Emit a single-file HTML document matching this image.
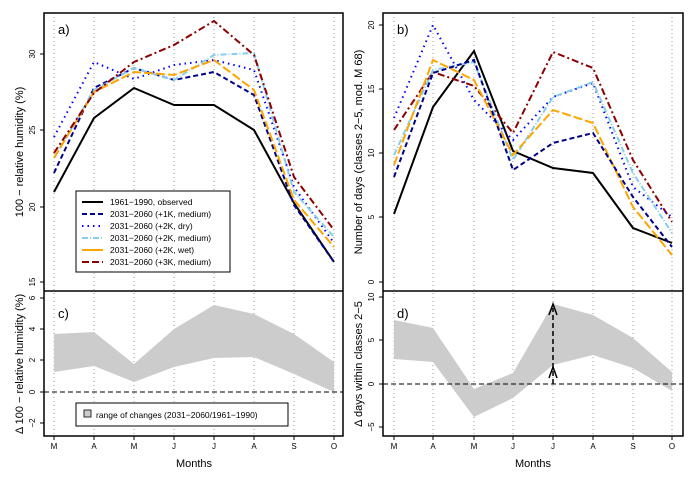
<!DOCTYPE html>
<html><head><meta charset="utf-8"><style>
html,body{margin:0;padding:0;background:#fff;}
svg{display:block;font-family:"Liberation Sans",sans-serif;}
</style></head><body>
<svg width="700" height="481" viewBox="0 0 700 481" xmlns="http://www.w3.org/2000/svg">
<rect width="700" height="481" fill="#fff"/>
<!-- grid lines -->
<g stroke="#999" stroke-width="1" stroke-dasharray="1,3">
<line x1="54" y1="13" x2="54" y2="436"/><line x1="94" y1="13" x2="94" y2="436"/><line x1="134" y1="13" x2="134" y2="436"/><line x1="174" y1="13" x2="174" y2="436"/><line x1="214" y1="13" x2="214" y2="436"/><line x1="254" y1="13" x2="254" y2="436"/><line x1="294" y1="13" x2="294" y2="436"/><line x1="334" y1="13" x2="334" y2="436"/>
<line x1="394" y1="13" x2="394" y2="436"/><line x1="433" y1="13" x2="433" y2="436"/><line x1="474" y1="13" x2="474" y2="436"/><line x1="513" y1="13" x2="513" y2="436"/><line x1="553" y1="13" x2="553" y2="436"/><line x1="593" y1="13" x2="593" y2="436"/><line x1="633" y1="13" x2="633" y2="436"/><line x1="672" y1="13" x2="672" y2="436"/>
</g>
<!-- panel a series -->
<g fill="none" stroke-width="2">
<polyline stroke="#000" points="54,192 94,118 134,88 174,105 214,105 254,130 294,203 334,262"/>
<polyline stroke="#00008b" stroke-dasharray="5,3" points="54,173 94,88 134,68 174,80 214,72 254,95 294,205 334,262"/>
<polyline stroke="#0000ff" stroke-dasharray="1.5,4" points="54,137 94,62 134,79 174,65 214,60 254,70 294,187 334,243"/>
<polyline stroke="#87ceeb" stroke-dasharray="6,2,1,2" points="54,158 94,90 134,68 174,80 214,55 254,53 294,192 334,237"/>
<polyline stroke="#ffa500" stroke-dasharray="9,3" points="54,158 94,92 134,72 174,75 214,60 254,90 294,200 334,247"/>
<polyline stroke="#8b0000" stroke-dasharray="7,3,2,3" points="54,153 94,93 134,62 174,45 214,21 254,55 294,177 334,230"/>
</g>
<!-- panel b series -->
<g fill="none" stroke-width="2">
<polyline stroke="#000" points="394,214 433,107 474,51 513,151 553,168 593,173 633,228 672,243"/>
<polyline stroke="#8b0000" stroke-dasharray="7,3,2,3" points="394,130 433,72 474,86 513,133 553,52 593,68 633,160 672,222"/>
<polyline stroke="#0000ff" stroke-dasharray="1.5,4" points="394,118 433,25 474,100 513,140 553,97 593,83 633,187 672,217"/>
<polyline stroke="#87ceeb" stroke-dasharray="6,2,1,2" points="394,155 433,70 474,62 513,160 553,97 593,82 633,173 672,233"/>
<polyline stroke="#ffa500" stroke-dasharray="9,3" points="394,165 433,60 474,80 513,155 553,110 593,123 633,207 672,255"/>
<polyline stroke="#00008b" stroke-dasharray="5,3" points="394,177 433,73 474,60 513,170 553,143 593,133 633,197 672,247"/>
</g>
<!-- bands -->
<polygon fill="#cccccc" points="54,334 94,332 134,364 174,329 214,305 254,314 294,334 334,362 334,392 294,374 254,357 214,358 174,367 134,382 94,366 54,372"/>
<polygon fill="#cccccc" points="394,320 433,328 474,389 513,373 553,304 593,315 633,338 672,372 672,391 633,368 593,355 553,365 513,398 474,417 433,362 394,359"/>
<g stroke="#000" stroke-width="1" stroke-dasharray="5,3">
<line x1="44" y1="392" x2="343" y2="392"/>
<line x1="383" y1="384" x2="683" y2="384"/>
</g>
<!-- arrow d -->
<line x1="553" y1="384" x2="553" y2="308" stroke="#000" stroke-width="1.5" stroke-dasharray="5,3"/>
<polyline points="549,315 553,304 557,315" fill="none" stroke="#000" stroke-width="1.5"/>
<polyline points="549,378 553,367 557,378" fill="none" stroke="#000" stroke-width="1.5"/>
<!-- boxes -->
<g fill="none" stroke="#000" stroke-width="1.5">
<rect x="44" y="13" width="299" height="423"/>
<line x1="44" y1="291" x2="343" y2="291"/>
<rect x="383" y="13" width="300" height="423"/>
<line x1="383" y1="291" x2="683" y2="291"/>
</g>
<!-- legend a -->
<rect x="76" y="191" width="154" height="81" fill="#fff" stroke="#000" stroke-width="1"/>
<g stroke-width="2">
<line x1="82" y1="202" x2="103" y2="202" stroke="#000"/>
<line x1="82" y1="214" x2="103" y2="214" stroke="#00008b" stroke-dasharray="5,3"/>
<line x1="82" y1="226" x2="103" y2="226" stroke="#0000ff" stroke-dasharray="1.5,4"/>
<line x1="82" y1="238" x2="103" y2="238" stroke="#87ceeb" stroke-dasharray="6,2,1,2"/>
<line x1="82" y1="250" x2="103" y2="250" stroke="#ffa500"/>
<line x1="82" y1="262" x2="103" y2="262" stroke="#8b0000" stroke-dasharray="7,3"/>
</g>
<g font-size="8.5" fill="#000">
<text x="110" y="205">1961−1990, observed</text>
<text x="110" y="217">2031−2060 (+1K, medium)</text>
<text x="110" y="229">2031−2060 (+2K, dry)</text>
<text x="110" y="241">2031−2060 (+2K, medium)</text>
<text x="110" y="253">2031−2060 (+2K, wet)</text>
<text x="110" y="265">2031−2060 (+3K, medium)</text>
</g>
<!-- legend c -->
<rect x="76" y="403" width="212" height="23" fill="#fff" stroke="#000" stroke-width="1"/>
<rect x="84" y="410" width="7" height="7" fill="#ccc" stroke="#000" stroke-width="0.8"/>
<text x="96" y="418" font-size="8.5">range of changes (2031−2060/1961−1990)</text>
<!-- panel letters -->
<g font-size="13">
<text x="58" y="34">a)</text><text x="397" y="34">b)</text>
<text x="58" y="318">c)</text><text x="397" y="318">d)</text>
</g>
<!-- y ticks -->
<g stroke="#000" stroke-width="1">
<line x1="40" y1="54" x2="44" y2="54"/><line x1="40" y1="130" x2="44" y2="130"/><line x1="40" y1="207" x2="44" y2="207"/><line x1="40" y1="282" x2="44" y2="282"/>
<line x1="40" y1="298" x2="44" y2="298"/><line x1="40" y1="329" x2="44" y2="329"/><line x1="40" y1="360" x2="44" y2="360"/><line x1="40" y1="392" x2="44" y2="392"/><line x1="40" y1="423" x2="44" y2="423"/>
<line x1="379" y1="25" x2="383" y2="25"/><line x1="379" y1="89" x2="383" y2="89"/><line x1="379" y1="153" x2="383" y2="153"/><line x1="379" y1="217" x2="383" y2="217"/><line x1="379" y1="282" x2="383" y2="282"/>
<line x1="379" y1="297" x2="383" y2="297"/><line x1="379" y1="340" x2="383" y2="340"/><line x1="379" y1="384" x2="383" y2="384"/><line x1="379" y1="427" x2="383" y2="427"/>
</g>
<g font-size="8" text-anchor="middle">
<text transform="translate(35,54) rotate(-90)">30</text><text transform="translate(35,130) rotate(-90)">25</text><text transform="translate(35,207) rotate(-90)">20</text><text transform="translate(35,282) rotate(-90)">15</text>
<text transform="translate(35,298) rotate(-90)">6</text><text transform="translate(35,329) rotate(-90)">4</text><text transform="translate(35,360) rotate(-90)">2</text><text transform="translate(35,392) rotate(-90)">0</text><text transform="translate(35,423) rotate(-90)">−2</text>
<text transform="translate(374,25) rotate(-90)">20</text><text transform="translate(374,89) rotate(-90)">15</text><text transform="translate(374,153) rotate(-90)">10</text><text transform="translate(374,217) rotate(-90)">5</text><text transform="translate(374,282) rotate(-90)">0</text>
<text transform="translate(374,297) rotate(-90)">10</text><text transform="translate(374,340) rotate(-90)">5</text><text transform="translate(374,384) rotate(-90)">0</text><text transform="translate(374,427) rotate(-90)">−5</text>
</g>
<!-- y axis titles -->
<g font-size="11" text-anchor="middle">
<text transform="translate(23,152) rotate(-90)">100 − relative humidity (%)</text>
<text transform="translate(23,364) rotate(-90)">Δ 100 − relative humidity (%)</text>
<text transform="translate(362,152) rotate(-90)">Number of days (classes 2−5, mod. M 68)</text>
<text transform="translate(362,364) rotate(-90)">Δ days within classes 2−5</text>
</g>
<!-- x ticks -->
<g stroke="#000" stroke-width="1">
<line x1="54" y1="436" x2="54" y2="440"/><line x1="94" y1="436" x2="94" y2="440"/><line x1="134" y1="436" x2="134" y2="440"/><line x1="174" y1="436" x2="174" y2="440"/><line x1="214" y1="436" x2="214" y2="440"/><line x1="254" y1="436" x2="254" y2="440"/><line x1="294" y1="436" x2="294" y2="440"/><line x1="334" y1="436" x2="334" y2="440"/>
<line x1="394" y1="436" x2="394" y2="440"/><line x1="433" y1="436" x2="433" y2="440"/><line x1="474" y1="436" x2="474" y2="440"/><line x1="513" y1="436" x2="513" y2="440"/><line x1="553" y1="436" x2="553" y2="440"/><line x1="593" y1="436" x2="593" y2="440"/><line x1="633" y1="436" x2="633" y2="440"/><line x1="672" y1="436" x2="672" y2="440"/>
</g>
<g font-size="8" text-anchor="middle">
<text x="54" y="449">M</text><text x="94" y="449">A</text><text x="134" y="449">M</text><text x="174" y="449">J</text><text x="214" y="449">J</text><text x="254" y="449">A</text><text x="294" y="449">S</text><text x="334" y="449">O</text>
<text x="394" y="449">M</text><text x="433" y="449">A</text><text x="474" y="449">M</text><text x="513" y="449">J</text><text x="553" y="449">J</text><text x="593" y="449">A</text><text x="633" y="449">S</text><text x="672" y="449">O</text>
</g>
<g font-size="11" text-anchor="middle">
<text x="194" y="467">Months</text><text x="533" y="467">Months</text>
</g>
</svg>
</body></html>
